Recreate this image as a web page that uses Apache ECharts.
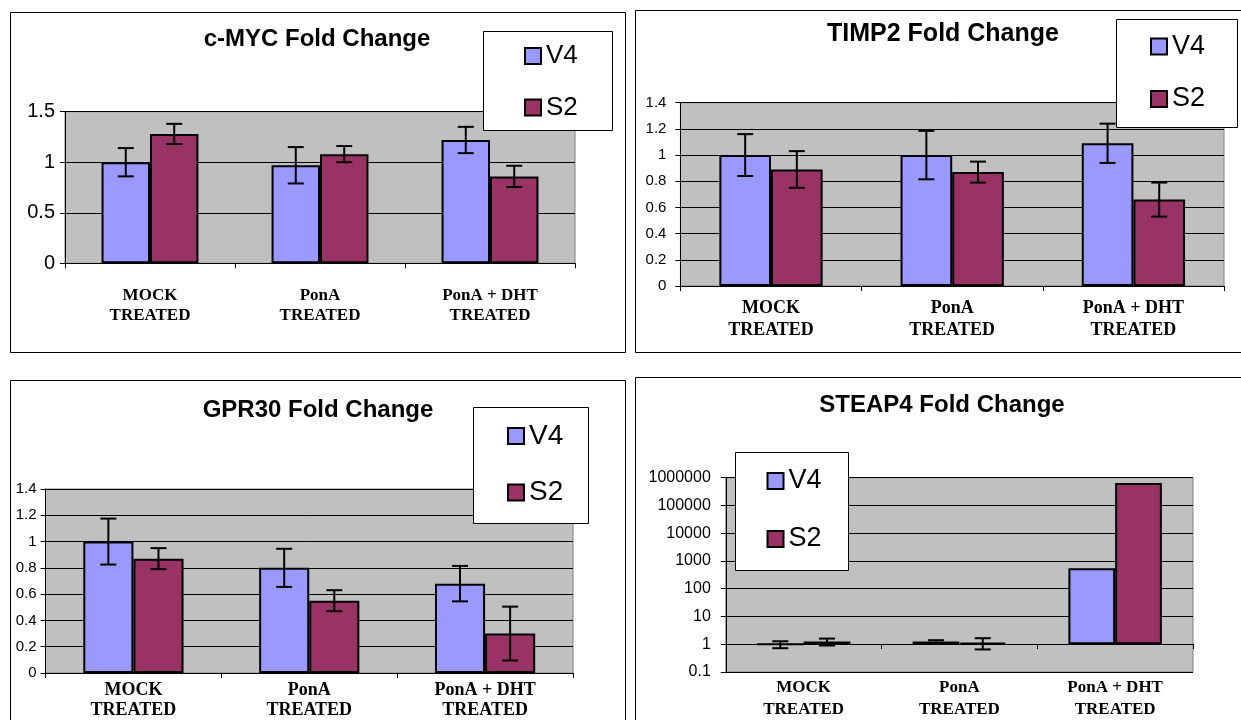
<!DOCTYPE html>
<html lang="en">
<head>
<meta charset="utf-8">
<title>Fold Change</title>
<script src="https://cdn.jsdelivr.net/npm/echarts@6/dist/echarts.min.js"></script>
<style>
  html, body { margin: 0; padding: 0; background: #fff; }
  #main { width: 1241px; height: 720px; }
</style>
</head>
<body>
<div id="main"></div>
<script type="text/javascript">
// categories / series
var categories = ['MOCK\nTREATED', 'PonA\nTREATED', 'PonA + DHT\nTREATED'];
var seriesNames = ['V4', 'S2'];
var titles = ['c-MYC Fold Change', 'TIMP2 Fold Change', 'GPR30 Fold Change', 'STEAP4 Fold Change'];

// c-MYC
var mycV4 = [1.0, 0.97, 1.22];
var mycS2 = [1.28, 1.08, 0.86];
var mycErrV4 = [0.14, 0.18, 0.13];
var mycErrS2 = [0.10, 0.08, 0.105];
var mycAxis = [0, 1.5, 0.5];

// TIMP2
var timpV4 = [1.0, 1.0, 1.09];
var timpS2 = [0.89, 0.87, 0.66];
var timpErrV4 = [0.16, 0.185, 0.15];
var timpErrS2 = [0.14, 0.08, 0.13];
var timpAxis = [0, 1.4, 0.2];

// GPR30
var gprV4 = [1.0, 0.8, 0.68];
var gprS2 = [0.87, 0.55, 0.30];
var gprErrV4 = [0.175, 0.145, 0.135];
var gprErrS2 = [0.08, 0.08, 0.205];
var gprAxis = [0, 1.4, 0.2];

// STEAP4 (log scale)
var steapV4 = [1.0, 1.25, 550];
var steapS2 = [1.25, 1.15, 650000];
var steapErrV4 = [0.28, 0.15, 0];
var steapErrS2 = [0.35, 0.5, 0];
var steapAxis = [0.1, 1000000];

var colV4 = '#9999ff';
var colS2 = '#993366';

// layout of the four panels
var panels = [
  {v4: mycV4, s2: mycS2, e4: mycErrV4, e2: mycErrS2, axis: mycAxis, log: false,
   frame: [10.5, 12.5, 615, 340], grid: [65, 111.7, 510, 151.6], gap: 0.43,
   title: [317, 27, 24], yFont: 20, yMargin: 10, xFont: 17, xLine: 20, xMargin: 22,
   box: [483.5, 31.5, 129, 99], legend: [524, 43, 25.5, 26]},
  {v4: timpV4, s2: timpS2, e4: timpErrV4, e2: timpErrS2, axis: timpAxis, log: false,
   frame: [635.5, 10.5, 620, 342], grid: [680.4, 102.7, 543.6, 183.3], gap: 0.43,
   title: [943, 22, 25], yFont: 15, yMargin: 14, xFont: 18, xLine: 22, xMargin: 11,
   box: [1116.5, 19.5, 121, 108], legend: [1150, 33, 25.5, 27]},
  {v4: gprV4, s2: gprS2, e4: gprErrV4, e2: gprErrS2, axis: gprAxis, log: false,
   frame: [10.5, 380.5, 615, 360], grid: [45.5, 489, 527.5, 189.3], gap: 0.43,
   title: [318, 398, 24], yFont: 15, yMargin: 9, xFont: 18, xLine: 20, xMargin: 7,
   box: [473.5, 407.5, 115, 116], legend: [507, 422, 28.5, 28]},
  {v4: steapV4, s2: steapS2, e4: steapErrV4, e2: steapErrS2, axis: steapAxis, log: true,
   frame: [635.5, 377.5, 620, 360], grid: [725.8, 477.7, 467.2, 195.6], gap: 0.40,
   title: [942, 393.5, 24], yFont: 16, yMargin: 15, xFont: 17, xLine: 21.5, xMargin: 5,
   box: [735.5, 452.5, 113, 118], legend: [766.5, 467.5, 31, 27]}
];

// error bar drawn over the bar: side -1 = left bar, +1 = right bar
function errorBars(side, gap) {
  return function (params, api) {
    var e = api.value(2);
    if (!e) return;
    var i = api.value(0), v = api.value(1);
    var band = api.size([1, 0])[0];
    var bw = band * (1 - gap) / 2;
    var x = api.coord([i, v])[0] + side * bw / 2;
    var y1 = api.coord([i, v + e])[1];
    var y2 = api.coord([i, v - e])[1];
    var h = 8;
    var st = {stroke: '#000', lineWidth: 2};
    return {type: 'group', children: [
      {type: 'line', shape: {x1: x, y1: y1, x2: x, y2: y2}, style: st},
      {type: 'line', shape: {x1: x - h, y1: y1, x2: x + h, y2: y1}, style: st},
      {type: 'line', shape: {x1: x - h, y1: y2, x2: x + h, y2: y2}, style: st}
    ]};
  };
}

function errData(vals, errs) {
  return vals.map(function (v, i) { return [i, v, errs[i]]; });
}

var option = {
  animation: false,
  backgroundColor: '#fff',
  title: [], grid: [], xAxis: [], yAxis: [], legend: [], series: [], graphic: []
};

panels.forEach(function (p, k) {
  option.title.push({
    text: titles[k], left: p.title[0], top: p.title[1], textAlign: 'center', padding: 0,
    textStyle: {fontFamily: 'Liberation Sans', fontWeight: 'bold', fontSize: p.title[2], color: '#000'}
  });
  option.grid.push({
    left: p.grid[0], top: p.grid[1], width: p.grid[2], height: p.grid[3],
    show: true, backgroundColor: '#c0c0c0', borderColor: '#808080', borderWidth: 1
  });
  option.xAxis.push({
    gridIndex: k, type: 'category', data: categories,
    axisLine: {show: !p.log, onZero: false, lineStyle: {color: '#000', width: 1}},
    axisTick: {show: !p.log, length: 5, lineStyle: {color: '#000'}},
    axisLabel: {interval: 0, margin: p.xMargin, color: '#000', fontFamily: 'Liberation Serif',
      fontWeight: 'bold', fontSize: p.xFont, lineHeight: p.xLine},
    splitLine: {show: false}
  });
  var ya = {
    gridIndex: k, type: p.log ? 'log' : 'value', min: p.axis[0], max: p.axis[1],
    axisLine: {show: true, lineStyle: {color: '#000', width: 1}},
    axisTick: {show: true, length: 5, lineStyle: {color: '#000'}},
    axisLabel: {margin: p.yMargin, color: '#000', fontFamily: 'Liberation Sans', fontSize: p.yFont},
    splitLine: {show: true, lineStyle: {color: '#000', width: 1}}
  };
  if (p.log) {
    ya.logBase = 10;
    ya.axisLabel.formatter = function (v) { return String(+(+v).toPrecision(6)); };
  } else {
    ya.interval = p.axis[2];
  }
  option.yAxis.push(ya);

  var bar = function (name, data, color) {
    return {
      name: name, type: 'bar', xAxisIndex: k, yAxisIndex: k, data: data,
      barGap: '0%', barCategoryGap: (p.gap * 100) + '%',
      itemStyle: {color: color, borderColor: '#000', borderWidth: 2}
    };
  };
  option.series.push(bar(seriesNames[0], p.v4, colV4));
  option.series.push(bar(seriesNames[1], p.s2, colS2));
  option.series.push({type: 'custom', xAxisIndex: k, yAxisIndex: k, z: 5,
    encode: {x: 0, y: 1}, data: errData(p.v4, p.e4), renderItem: errorBars(-1, p.gap)});
  option.series.push({type: 'custom', xAxisIndex: k, yAxisIndex: k, z: 5,
    encode: {x: 0, y: 1}, data: errData(p.s2, p.e2), renderItem: errorBars(1, p.gap)});

  option.legend.push({
    data: seriesNames, orient: 'vertical', left: p.legend[0], top: p.legend[1],
    itemGap: p.legend[2], itemWidth: 16, itemHeight: 16, padding: 0, z: 60,
    icon: 'rect', selectedMode: false,
    itemStyle: {borderColor: '#000', borderWidth: 2},
    textStyle: {fontFamily: 'Liberation Sans', fontSize: p.legend[3], color: '#000'}
  });

  // panel frame and legend box
  option.graphic.push({type: 'rect', z: -1,
    shape: {x: p.frame[0], y: p.frame[1], width: p.frame[2], height: p.frame[3]},
    style: {fill: 'none', stroke: '#000', lineWidth: 1}});
  option.graphic.push({type: 'rect', z: 50,
    shape: {x: p.box[0], y: p.box[1], width: p.box[2], height: p.box[3]},
    style: {fill: '#fff', stroke: '#000', lineWidth: 1}});
});

// STEAP4: category axis line sits at value 1 (one decade above the 0.1 bottom)
var sp = panels[3];
option.xAxis.push({
  gridIndex: 3, type: 'category', data: categories, position: 'bottom',
  offset: -sp.grid[3] / 7,
  axisLine: {show: true, onZero: false, lineStyle: {color: '#000', width: 1}},
  axisTick: {show: true, length: 5, lineStyle: {color: '#000'}},
  axisLabel: {show: false}, splitLine: {show: false}
});

var myChart = echarts.init(document.getElementById('main'));
myChart.setOption(option);
</script>
</body>
</html>
